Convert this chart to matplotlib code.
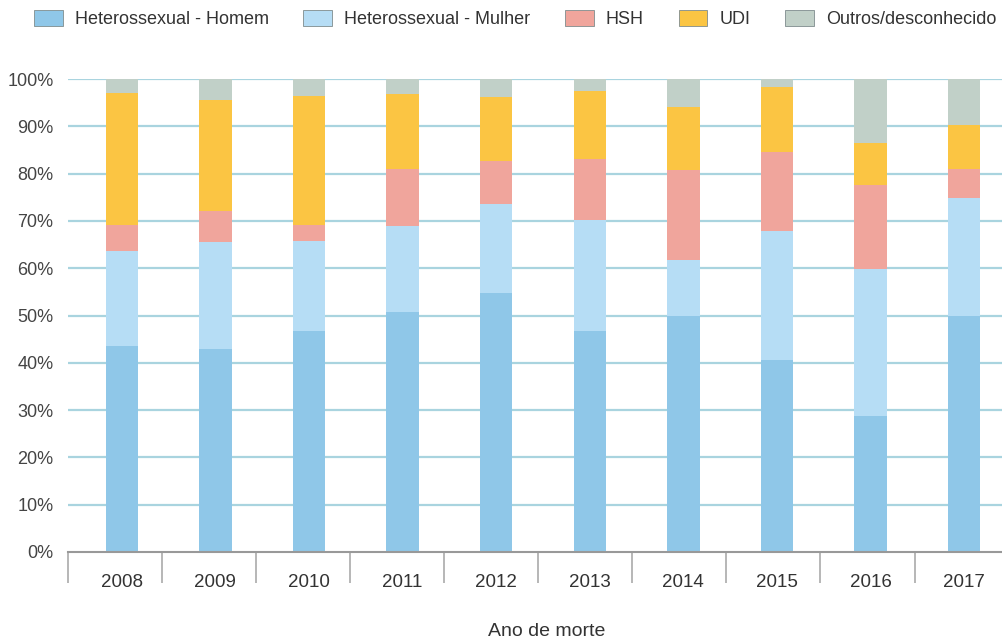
import matplotlib
matplotlib.use("Agg")
import matplotlib.pyplot as plt
import numpy as np
from matplotlib.patches import Patch

years = ["2008", "2009", "2010", "2011", "2012", "2013", "2014", "2015", "2016", "2017"]
series_names = ["Heterossexual - Homem", "Heterossexual - Mulher", "HSH", "UDI", "Outros/desconhecido"]
het_homem = [43.6, 42.9, 46.7, 50.8, 54.7, 46.7, 49.9, 40.5, 28.8, 49.9]
het_mulher = [20.0, 22.6, 19.0, 18.1, 18.8, 23.5, 11.8, 27.4, 31.0, 25.0]
hsh = [5.5, 6.6, 3.4, 12.1, 9.2, 12.8, 19.1, 16.7, 17.8, 6.1]
udi = [27.9, 23.5, 27.4, 15.9, 13.4, 14.5, 13.3, 13.7, 8.9, 9.3]
outros = [3.0, 4.4, 3.5, 3.1, 3.9, 2.5, 5.9, 1.7, 13.5, 9.7]
colors = ["#8fc7e8", "#b6ddf5", "#f0a59c", "#fbc543", "#c1d0c8"]
yticks = [0, 10, 20, 30, 40, 50, 60, 70, 80, 90, 100]

plt.rcParams['font.family'] = ['Liberation Sans', 'DejaVu Sans']
fig = plt.figure(figsize=(10.03, 6.41), dpi=100)
W, H = 1003, 641
ax = fig.add_axes([68 / W, (H - 552) / H, (1010 - 68) / W, (552 - 79) / H])
ax.set_facecolor("white")

x = np.arange(len(years))
data = [het_homem, het_mulher, hsh, udi, outros]
bottom = np.zeros(len(years))
for vals, c in zip(data, colors):
    ax.bar(x, vals, bottom=bottom, width=0.345, color=c, zorder=3, linewidth=0)
    bottom += np.array(vals)

ax.set_xlim(-0.575, 9.49)
ax.set_ylim(0, 100)
ax.set_yticks(yticks)
ax.set_yticklabels([f"{v}%" for v in yticks])
for v in yticks[1:]:
    ax.axhline(v, color="#a9d4df", lw=1.6, zorder=1)

ax.set_xticks(x)
ax.set_xticklabels(years)
ax.set_xticks(-0.575 + 1.005 * np.arange(11), minor=True)
ax.tick_params(axis="x", which="major", length=0, pad=16, labelsize=13.5, labelcolor="#333333")
ax.tick_params(axis="x", which="minor", length=22, width=1.2, color="#aaaaaa", direction="out")
ax.tick_params(axis="y", length=0, pad=10.5, labelsize=13, labelcolor="#444444")

for s in ["top", "right", "left"]:
    ax.spines[s].set_visible(False)
ax.spines["bottom"].set_color("#999999")
ax.spines["bottom"].set_linewidth(1.5)
ax.spines["bottom"].set_zorder(4)

fig.text(547 / W, 1 - 631 / H, "Ano de morte", fontsize=14, color="#333333",
         ha="center", va="center")

handles = [Patch(facecolor=c, edgecolor="#7f8c8d", linewidth=0.6) for c in colors]
fig.legend(handles, series_names, loc="center left", bbox_to_anchor=(34 / W, 1 - 19 / H),
           ncol=5, frameon=False, fontsize=13, handlelength=1.6, handleheight=1.0,
           columnspacing=1.93, handletextpad=0.65, labelcolor="#333333", borderaxespad=0,
           borderpad=0)

fig.savefig("out.png", dpi=100)
